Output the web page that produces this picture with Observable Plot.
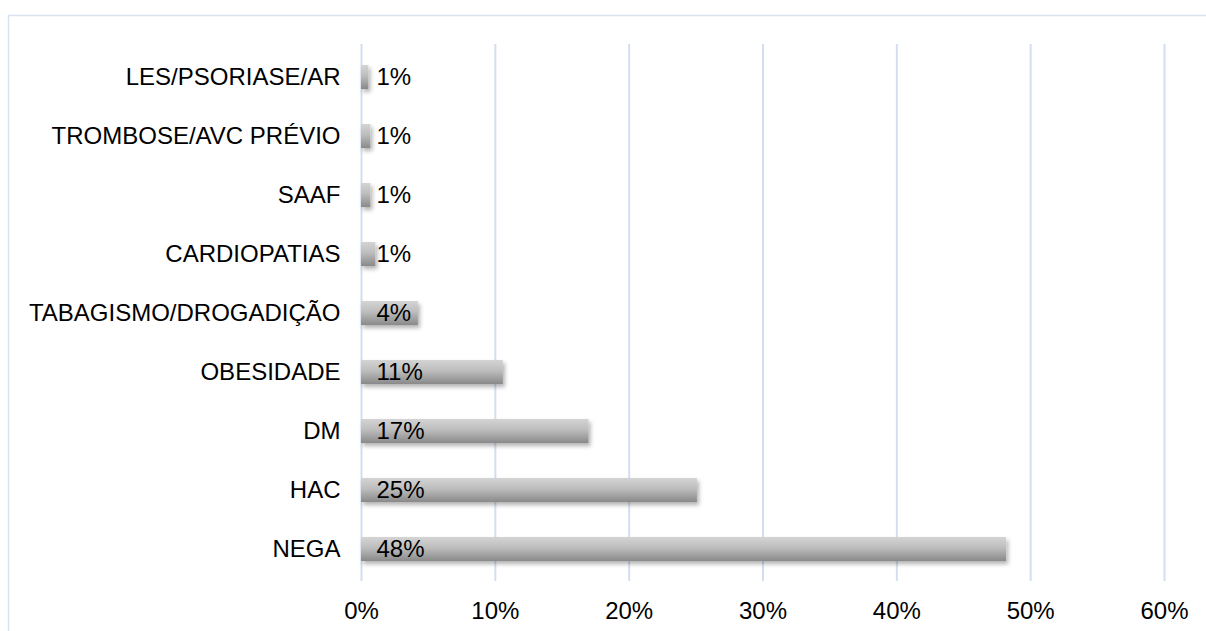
<!DOCTYPE html>
<html>
<head>
<meta charset="utf-8">
<script src="https://cdn.jsdelivr.net/npm/d3@7"></script>
<script src="https://cdn.jsdelivr.net/npm/@observablehq/plot@0.6"></script>
<style>
  html, body { margin: 0; padding: 0; background: #fff; }
</style>
</head>
<body>
<div id="chart"></div>
<script>
// Comorbidities, share of patients (top to bottom)
const categories = [
  "LES/PSORIASE/AR",
  "TROMBOSE/AVC PRÉVIO",
  "SAAF",
  "CARDIOPATIAS",
  "TABAGISMO/DROGADIÇÃO",
  "OBESIDADE",
  "DM",
  "HAC",
  "NEGA"
];
const shares = [0.0055, 0.007, 0.007, 0.0107, 0.0425, 0.106, 0.17, 0.251, 0.482];
const xTicks = [0, 0.1, 0.2, 0.3, 0.4, 0.5, 0.6];

const rows = categories.map((category, i) => ({ category, share: shares[i] }));
const pct = d => Math.round(d * 100) + "%";
const FS = 24;

const chart = Plot.plot({
  width: 1206,
  height: 631,
  marginLeft: 361,
  marginRight: 42,
  marginTop: 44,
  marginBottom: 50,
  style: {
    fontFamily: "'Liberation Sans', Arial, sans-serif",
    fontSize: FS + "px",
    color: "#000",
    background: "#fff",
    overflow: "visible"
  },
  x: { domain: [0, 0.6], label: null },
  y: { domain: categories, paddingInner: 0.6, paddingOuter: 0.3, label: null },
  marks: [
    Plot.gridX(xTicks, { stroke: "#d3dff0", strokeOpacity: 1, strokeWidth: 2 }),
    Plot.barX(rows, { x: "share", y: "category", fill: "url(#barShade)" }),
    Plot.text(rows, {
      x: 0, y: "category", text: d => pct(d.share),
      dx: 15, textAnchor: "start", fill: "#000", fontSize: FS
    }),
    Plot.axisX(xTicks, { tickSize: 0, tickPadding: 20, tickFormat: pct, fontSize: FS }),
    Plot.axisY({ tickSize: 0, tickPadding: 21, fontSize: FS })
  ]
});

// Bar shading, soft shadow, and the outer chart border
const svg = d3.select(chart);
const defs = svg.insert("defs", ":first-child");
const grad = defs.append("linearGradient")
  .attr("id", "barShade").attr("x1", 0).attr("y1", 0).attr("x2", 0).attr("y2", 1);
grad.append("stop").attr("offset", "0%").attr("stop-color", "#d4d4d4");
grad.append("stop").attr("offset", "45%").attr("stop-color", "#bdbdbd");
grad.append("stop").attr("offset", "100%").attr("stop-color", "#898989");
const shadow = defs.append("filter").attr("id", "barShadow")
  .attr("x", "-20%").attr("y", "-30%").attr("width", "160%").attr("height", "180%");
shadow.append("feDropShadow").attr("dx", 2).attr("dy", 3)
  .attr("stdDeviation", 2).attr("flood-color", "#000").attr("flood-opacity", 0.3);
svg.select('g[aria-label="bar"]').attr("filter", "url(#barShadow)");

svg.insert("rect", "defs + *")
  .attr("x", 8.5).attr("y", 15.5).attr("width", 1210).attr("height", 640)
  .attr("fill", "none").attr("stroke", "#d9e2ef").attr("stroke-width", 1.5);

document.getElementById("chart").appendChild(chart);
</script>
</body>
</html>
